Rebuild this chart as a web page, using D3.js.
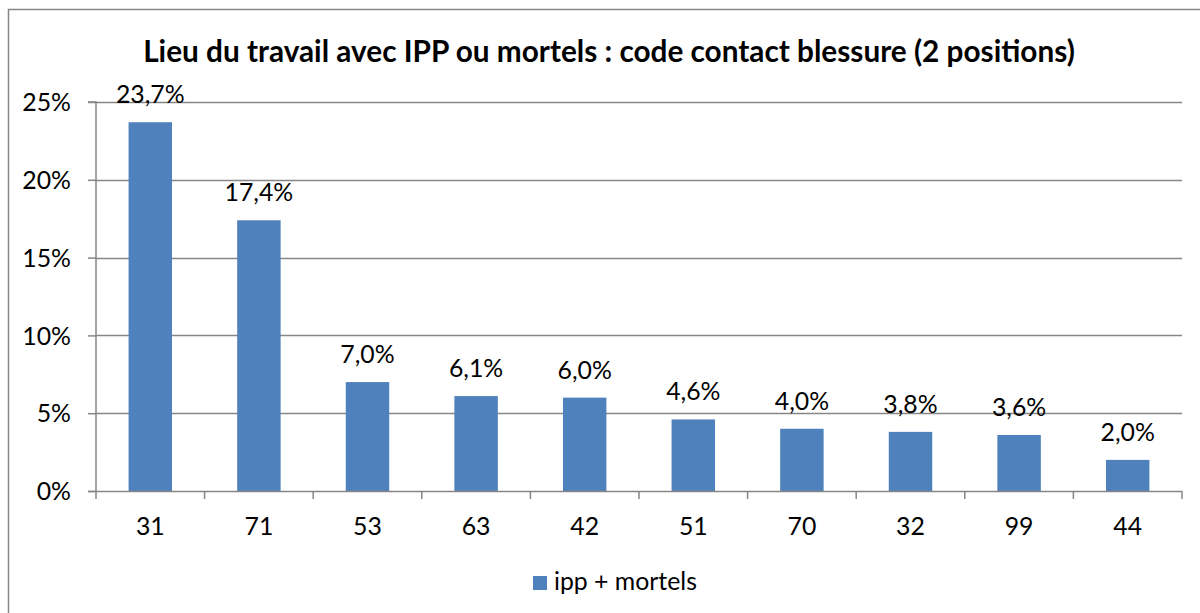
<!DOCTYPE html>
<html>
<head>
<meta charset="utf-8">
<script src="https://cdn.jsdelivr.net/npm/d3@7"></script>
<style>
  body { margin: 0; background: #fff; }
  svg text { font-family: "Lato", "Open Sans", sans-serif; fill: #000; }
</style>
</head>
<body>
<svg id="chart" width="1200" height="613"></svg>
<script>
let title = "Lieu du travail avec IPP ou mortels : code contact blessure (2 positions)";
let categories = ["31", "71", "53", "63", "42", "51", "70", "32", "99", "44"];
let values = [23.7, 17.4, 7.0, 6.1, 6.0, 4.6, 4.0, 3.8, 3.6, 2.0];
let yTicks = [0, 5, 10, 15, 20, 25];
let seriesName = "ipp + mortels";

let svg = d3.select("#chart");
let margin = { top: 102, right: 18, bottom: 122, left: 96 };
let width = 1200, height = 613;

// pick a label size so the legend text is as wide as in the picture
let probe = svg.append("text").style("font-size", "20px").text(seriesName);
let fs = 20 * 143 / probe.node().getComputedTextLength();
probe.remove();

// outer frame
svg.append("rect")
    .attr("x", 8.5).attr("y", 9.5)
    .attr("width", 1300).attr("height", 700)
    .attr("fill", "none").attr("stroke", "#868686").attr("stroke-width", 1.5);

let x = d3.scaleBand()
    .domain(categories)
    .range([margin.left, width - margin.right])
    .paddingInner(0.6).paddingOuter(0.3);

let y = d3.scaleLinear()
    .domain([0, 25])
    .range([height - margin.bottom, margin.top]);

// gridlines
svg.append("g")
    .selectAll("line")
    .data(yTicks.filter(d => d > 0))
    .enter().append("line")
    .attr("x1", margin.left).attr("x2", width - margin.right)
    .attr("y1", d => Math.round(y(d)) + 0.5).attr("y2", d => Math.round(y(d)) + 0.5)
    .attr("stroke", "#868686").attr("stroke-width", 1.3);

// bars
svg.append("g")
    .selectAll("rect")
    .data(values)
    .enter().append("rect")
    .attr("x", (d, i) => x(categories[i]))
    .attr("y", d => y(d))
    .attr("width", x.bandwidth())
    .attr("height", d => y(0) - y(d))
    .attr("fill", "#4f81bd");

// data labels
svg.append("g")
    .selectAll("text")
    .data(values)
    .enter().append("text")
    .attr("x", (d, i) => x(categories[i]) + x.bandwidth() / 2)
    .attr("y", d => y(d) - 19)
    .attr("text-anchor", "middle")
    .style("font-size", fs + "px")
    .text(d => d.toFixed(1).replace(".", ",") + "%");

// y axis
let yAxis = d3.axisLeft(y)
    .tickValues(yTicks)
    .tickSize(8)
    .tickPadding(17)
    .tickFormat(d => d + "%");
let yg = svg.append("g")
    .attr("transform", `translate(${margin.left},0)`)
    .call(yAxis);
yg.selectAll("text").style("font-size", fs + "px").attr("dy", "0.35em");

// x axis: ticks between categories
let xg = svg.append("g")
    .attr("transform", `translate(0,${y(0)})`);
xg.append("line")
    .attr("x1", margin.left - 8).attr("x2", width - margin.right)
    .attr("y1", 0.5).attr("y2", 0.5);
let bounds = d3.range(categories.length + 1).map(i => margin.left + i * (width - margin.left - margin.right) / categories.length);
xg.selectAll("line.tk")
    .data(bounds)
    .enter().append("line")
    .attr("class", "tk")
    .attr("x1", d => d).attr("x2", d => d)
    .attr("y1", 0).attr("y2", 8);
xg.selectAll("text")
    .data(categories)
    .enter().append("text")
    .attr("x", d => x(d) + x.bandwidth() / 2)
    .attr("y", 44)
    .attr("text-anchor", "middle")
    .style("font-size", fs + "px")
    .text(d => d);

svg.selectAll(".domain, .tick line, g line")
    .attr("stroke", "#868686").attr("stroke-width", 1.5);
yg.select(".domain").attr("d", `M${-8},${y(25)}H0V${y(0)}`);

// title
let t = svg.append("text")
    .attr("x", 609).attr("y", 62)
    .attr("text-anchor", "middle")
    .style("font-size", "24px")
    .style("font-weight", "bold")
    .text(title);
let tw = t.node().getComputedTextLength();
t.style("font-size", (24 * 932 / tw) + "px");

// legend
svg.append("rect")
    .attr("x", 533).attr("y", 576)
    .attr("width", 14).attr("height", 14)
    .attr("fill", "#4f81bd");
svg.append("text")
    .attr("x", 554).attr("y", 590)
    .style("font-size", fs + "px")
    .text(seriesName);
</script>
</body>
</html>
